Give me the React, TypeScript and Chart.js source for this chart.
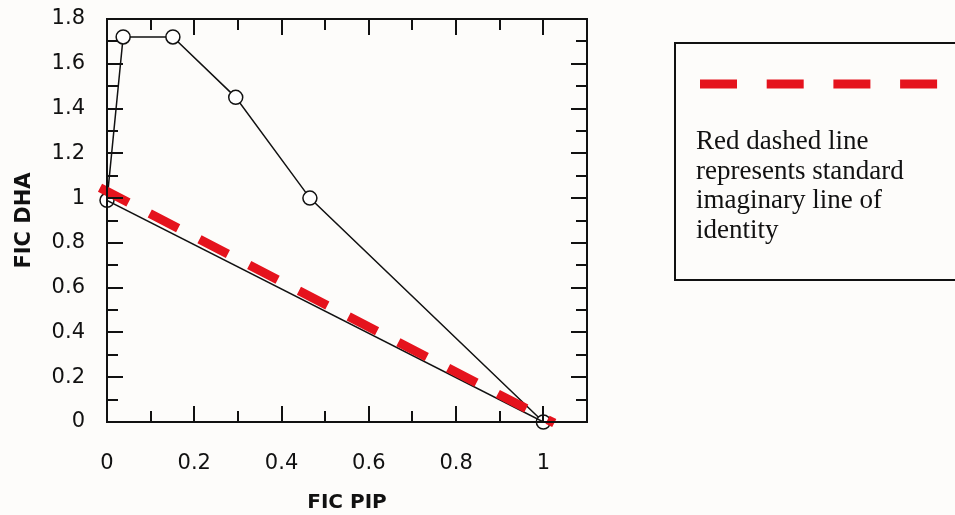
import React, { useEffect, useRef } from "react";
import { Chart, registerables } from "chart.js";

Chart.register(...registerables);

// ---- data ----
const MAIN_X = [0, 0.037, 0.151, 0.295, 0.465, 1.0];
const MAIN_Y = [0.99, 1.72, 1.72, 1.45, 1.0, 0.0];
const IDENT_X = [0, 1.0];
const IDENT_Y = [0.99, 0.0];
const RED_X = [-0.016, 1.025];
const RED_Y = [1.046, -0.005];
const X_TICKS = [0, 0.2, 0.4, 0.6, 0.8, 1];
const Y_TICKS = [0, 0.2, 0.4, 0.6, 0.8, 1, 1.2, 1.4, 1.6, 1.8];
const X_MINOR = [0.1, 0.2, 0.3, 0.4, 0.5, 0.6, 0.7, 0.8, 0.9, 1.0];
const Y_MINOR = [0.1, 0.2, 0.3, 0.4, 0.5, 0.6, 0.7, 0.8, 0.9, 1.0, 1.1, 1.2, 1.3, 1.4, 1.5, 1.6, 1.7];
const X_TITLE = "FIC PIP";
const Y_TITLE = "FIC DHA";
const LEGEND_LINES = [
  "Red dashed line",
  "represents standard",
  "imaginary line of",
  "identity",
];

const RED = "#e5131d";
const INK = "#111111";
const BG = "#fdfcfa";

const pts = (xs: number[], ys: number[]) => xs.map((x, i) => ({ x, y: ys[i] }));
const fmt = (v: number) => String(Math.round(Number(v) * 10) / 10);

const framePlugin = {
  id: "frameTicks",
  beforeDraw(chart: any) {
    const { ctx, width, height } = chart;
    ctx.save();
    ctx.fillStyle = BG;
    ctx.fillRect(0, 0, width, height);
    ctx.restore();
  },
  afterDatasetsDraw(chart: any) {
    const { ctx, chartArea } = chart;
    const xs = chart.scales.x;
    const ys = chart.scales.y;
    const { left, right, top, bottom } = chartArea;
    ctx.save();
    ctx.strokeStyle = INK;
    ctx.lineWidth = 2;
    ctx.strokeRect(left, top, right - left, bottom - top);
    X_MINOR.forEach((v) => {
      const px = Math.round(xs.getPixelForValue(v));
      const major = Math.round(v * 10) % 2 === 0;
      const len = major ? 16 : 11;
      ctx.beginPath();
      ctx.moveTo(px, bottom);
      ctx.lineTo(px, bottom - len);
      ctx.moveTo(px, top);
      ctx.lineTo(px, top + len);
      ctx.stroke();
    });
    Y_MINOR.forEach((v) => {
      const py = Math.round(ys.getPixelForValue(v));
      const major = Math.round(v * 10) % 2 === 0;
      const len = major ? 16 : 11;
      ctx.beginPath();
      ctx.moveTo(left, py);
      ctx.lineTo(left + len, py);
      ctx.moveTo(right, py);
      ctx.lineTo(right - len, py);
      ctx.stroke();
    });
    ctx.restore();
  },
  afterDraw(chart: any) {
    const { ctx } = chart;
    ctx.save();
    // legend box
    ctx.strokeStyle = INK;
    ctx.lineWidth = 2;
    ctx.strokeRect(675, 43, 300, 237);
    // red dash sample
    ctx.strokeStyle = RED;
    ctx.lineWidth = 9;
    ctx.setLineDash([37, 29.7]);
    ctx.beginPath();
    ctx.moveTo(700, 84);
    ctx.lineTo(938, 84);
    ctx.stroke();
    ctx.setLineDash([]);
    // text
    ctx.fillStyle = INK;
    ctx.font = '27px "Liberation Serif", serif';
    ctx.textBaseline = "alphabetic";
    ctx.textAlign = "left";
    LEGEND_LINES.forEach((t, i) => {
      ctx.fillText(t, 696, 149 + i * 29.5);
    });
    ctx.restore();
  },
};

export default function App() {
  const ref = useRef<HTMLCanvasElement>(null);
  useEffect(() => {
    if (!ref.current) return;
    const chart = new Chart(ref.current, {
      type: "scatter",
      data: {
        datasets: [
          {
            label: "Line of identity",
            data: pts(RED_X, RED_Y),
            showLine: true,
            borderColor: RED,
            borderWidth: 9,
            borderDash: [32, 24],
            borderCapStyle: "butt",
            pointRadius: 0,
            clip: false,
          } as any,
          {
            label: "Identity",
            data: pts(IDENT_X, IDENT_Y),
            showLine: true,
            borderColor: INK,
            borderWidth: 1.5,
            pointRadius: 0,
          },
          {
            label: "FIC",
            data: pts(MAIN_X, MAIN_Y),
            showLine: true,
            borderColor: INK,
            borderWidth: 1.5,
            pointRadius: 7,
            pointBackgroundColor: "#ffffff",
            pointBorderColor: INK,
            pointBorderWidth: 1.5,
            clip: false,
          } as any,
        ],
      },
      options: {
        responsive: false,
        animation: false,
        layout: { padding: { left: 0, top: 19, right: 368, bottom: 0 } },
        plugins: { legend: { display: false }, tooltip: { enabled: false } },
        scales: {
          x: {
            type: "linear",
            position: "bottom",
            min: 0,
            max: 1.1,
            grid: { display: false, drawTicks: false },
            border: { display: false },
            afterBuildTicks: (s: any) => {
              s.ticks = X_TICKS.map((v) => ({ value: v }));
            },
            afterFit: (s: any) => {
              s.height = 93;
              s.paddingLeft = 0;
              s.paddingRight = 0;
            },
            ticks: {
              color: INK,
              padding: 29,
              maxRotation: 0,
              autoSkip: false,
              font: { family: '"DejaVu Sans", sans-serif', size: 21 },
              callback: (v: any) => fmt(v),
            },
            title: {
              display: true,
              text: X_TITLE,
              color: INK,
              font: { family: '"DejaVu Sans", sans-serif', size: 20, weight: "bold" },
              padding: { top: 0, bottom: 0 },
            },
          },
          y: {
            type: "linear",
            min: 0,
            max: 1.8,
            grid: { display: false, drawTicks: false },
            border: { display: false },
            afterBuildTicks: (s: any) => {
              s.ticks = Y_TICKS.map((v) => ({ value: v }));
            },
            afterFit: (s: any) => {
              s.width = 107;
              s.paddingTop = 0;
              s.paddingBottom = 0;
            },
            ticks: {
              color: INK,
              padding: 22,
              autoSkip: false,
              font: { family: '"DejaVu Sans", sans-serif', size: 21 },
              callback: (v: any) => fmt(v),
            },
            title: {
              display: true,
              text: Y_TITLE,
              color: INK,
              font: { family: '"DejaVu Sans", sans-serif', size: 21, weight: "bold" },
              padding: { top: 12, bottom: 0 },
            },
          },
        },
      },
      plugins: [framePlugin],
    });
    return () => chart.destroy();
  }, []);
  return (
    <div style={{ position: "absolute", left: 0, top: 0, width: 955, height: 515, background: BG }}>
      <canvas ref={ref} width={955} height={515} />
    </div>
  );
}
